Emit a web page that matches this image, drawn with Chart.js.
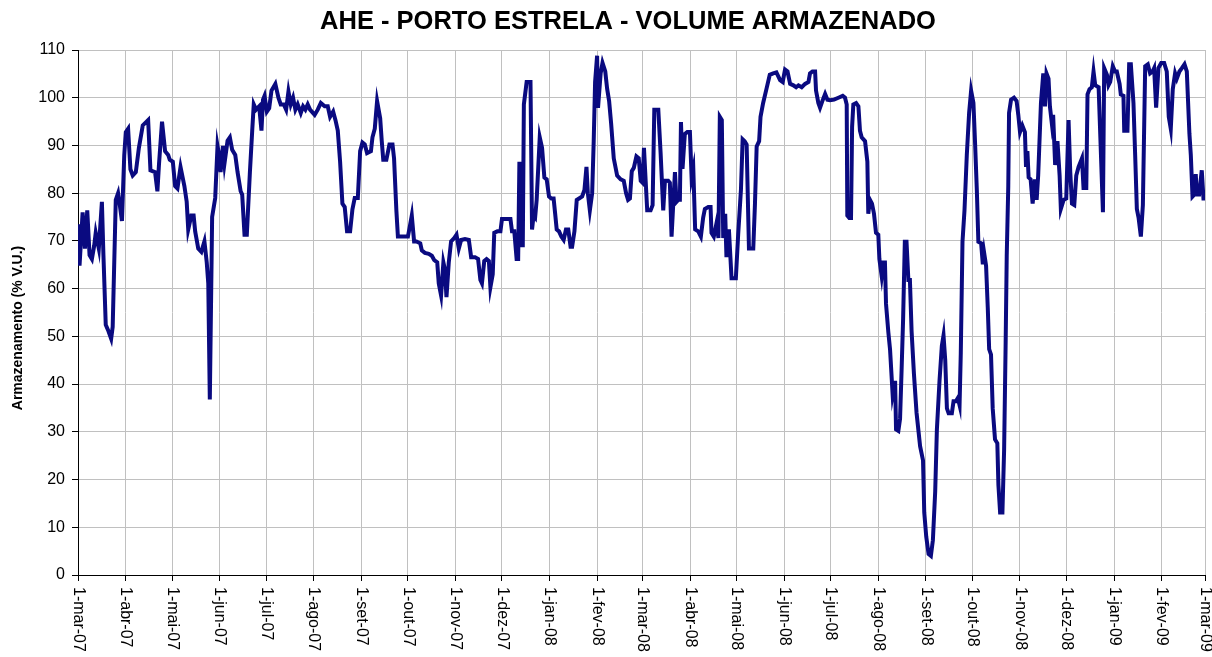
<!DOCTYPE html>
<html>
<head>
<meta charset="utf-8">
<script src="https://cdn.jsdelivr.net/npm/chart.js@4/dist/chart.umd.min.js"></script>
<style>
	html, body { margin: 0; padding: 0; background: #fff; }
	#wrap { width: 1212px; height: 657px; }
</style>
</head>
<body>
<div id="wrap"><canvas id="myChart" width="1212" height="657"></canvas></div>
<script>
// dias contados a partir de 1-mar-07
const dias = [
	0, 1, 3, 4.5, 6, 7.5, 9, 10.5, 11.5, 13.5, 15.5, 16.5, 18, 19.5, 21.5, 22.5, 24.5, 26, 27, 28.5,
	30, 31, 32.5, 34, 35.5, 37.5, 39.5, 42, 45.5, 47, 50, 51.5, 52.5, 54.5, 56.5, 58.5, 59.5, 61.5, 63, 64.5,
	66.5, 69, 70.5, 71.5, 73.5, 75, 76, 78, 80, 82, 83.5, 84.5, 85.5, 87, 89, 90.5, 91.5, 92.5, 94, 95,
	97, 98.5, 100, 102, 103.5, 105.5, 106.5, 108, 109.5, 111.5, 113, 114, 115.5, 117.5, 119, 120, 121, 122.5, 124, 125.5,
	128, 130, 131.5, 133.5, 135, 136.5, 138, 139.5, 141, 142.5, 144.5, 146, 147.5, 149, 150.5, 153.5, 155.5, 157.5, 160, 162,
	163.5, 165.5, 167, 168.5, 170, 171.5, 173, 174.5, 176.5, 178, 179.5, 181.5, 183, 184.5, 186, 187.5, 190, 191, 192.5, 194,
	196, 197, 198, 200, 202, 204, 205, 206.5, 207.5, 214, 215.5, 216.5, 218, 219.5, 222, 223, 225, 227.5, 229.5, 231,
	233, 234, 235.5, 237, 238, 239, 240.5, 242, 244, 245.5, 247, 248.5, 251, 253.5, 255, 257.5, 259.5, 261, 262, 263.5,
	265, 266.5, 267.5, 269, 270, 272, 274, 275, 277, 280.5, 281.5, 283, 284.5, 285.5, 286.3, 287.2, 288.5, 289.2, 291, 293.5,
	294.5, 295.5, 296.5, 297.5, 299.5, 301, 302.5, 304, 305.5, 307, 308.5, 309.5, 310.5, 312, 313.5, 315, 316.5, 318, 319.5, 320.5,
	322, 323.5, 325, 327, 328.5, 329.8, 330.7, 332, 333.5, 334.5, 335.4, 336.7, 337.3, 339, 340.2, 342, 343.2, 344.5, 345.8, 347.5,
	349.7, 352, 354, 355.5, 356.8, 358, 359.2, 360.5, 362.2, 363.7, 365, 366.2, 367.1, 368.2, 369.2, 371.4, 372.7, 373.8, 376.4, 377.9,
	379.6, 380.7, 382.8, 383.9, 385, 386.1, 387.2, 388.2, 389.3, 390.4, 391.1, 392.1, 393.6, 395.2, 396.9, 398, 399.1, 400.3, 402.3, 404,
	405.5, 406.6, 408.8, 410.3, 410.9, 412.4, 414.2, 415.4, 416.3, 417.6, 418.5, 419.8, 420.6, 422.2, 423.9, 426.7, 428.2, 430, 431.1, 432.4,
	433.7, 435.2, 438, 439.1, 440.2, 441.8, 442.7, 444.4, 446.6, 448.7, 450.9, 453, 455.4, 457.1, 458.6, 460.2, 461.9, 464, 465.8, 467.3,
	469.4, 471.6, 473.8, 474.8, 476.4, 478.1, 478.7, 480.2, 481.3, 482.8, 484.6, 486.1, 487.8, 490.4, 493.2, 496, 497.5, 498.6, 499, 500.3,
	501.4, 502.1, 502.9, 504.7, 506.2, 507.2, 508.3, 510.5, 512, 512.6, 513.7, 515, 516.3, 517.6, 519.1, 519.8, 521.3, 522.4, 523.4, 524.1,
	525.6, 526.7, 528.4, 530, 530.6, 532.1, 533.2, 534.2, 535.2, 536.3, 537.4, 538.6, 539.6, 540.7, 542.2, 543.9, 546.2, 548.1, 548.9, 550.2,
	551.7, 553.2, 554.5, 556, 557.1, 558.8, 560.3, 561.4, 562.5, 563.6, 564.7, 566.8, 567.9, 569.4, 570.7, 571.8, 572.6, 573.7, 575, 576.5,
	578, 579.3, 580.8, 581.9, 583, 584, 585.8, 586.9, 587.7, 589, 590.1, 591, 592.2, 593.3, 594.8, 596.3, 597, 598.1, 599.6, 600.7,
	601.7, 602.4, 603.4, 603.9, 605.2, 607.1, 608.8, 609.9, 611, 612.5, 614.2, 614.9, 615.8, 616.6, 617.9, 619.2, 620.7, 621.8, 622.8, 624.6,
	626.1, 627.2, 628.2, 629.5, 630.4, 631.7, 632.5, 633.8, 635.3, 636.7, 637.5, 639.3, 641, 642.5, 643.6, 644.7, 646.2, 647.5, 649, 651.2,
	652.2, 654, 654.8, 656.1, 657.6, 658.7, 659.8, 662, 664.8, 665.6, 667.4, 668.4, 669.5, 671.2, 672.7, 673.8, 675.6, 676.4, 678.1, 678.6,
	680.7, 681.8, 682.9, 684.6, 685.7, 686.8, 687.9, 689.4, 690.7, 692.2, 693.9, 695.4, 697, 698, 699.3, 700.8, 702.6, 704.5, 706.2, 707.5,
	708.8, 710.1, 711.6, 712.7, 714.4, 716, 717.7, 719.2, 720.9, 721.8, 722.9, 724, 725, 725.7, 727.2, 728.9, 730, 731
];

// armazenamento (% V.U.)
const volume = [
	73.5, 64.8, 76, 68.4, 76.4, 67, 66.2, 69, 71.7, 68.4, 78.2, 67, 52.4, 51.3, 49.5, 52, 78.6, 80, 77.8, 74.2,
	88, 92.8, 93.5, 85, 83.7, 84.4, 89.5, 94.2, 95.3, 84.8, 84.4, 80.4, 85.9, 95, 88.8, 88, 87, 86.6, 81.5, 81,
	85.5, 81.5, 78.2, 72.4, 75.3, 75.3, 72, 68.4, 67.7, 69.9, 65.5, 61.1, 36.8, 75, 79, 89.9, 88, 84.4, 89.9, 86.2,
	91, 91.7, 89.1, 88, 84.4, 80.4, 79.7, 71.3, 71.3, 84.4, 93.1, 98.6, 97.5, 98.2, 93.1, 99.6, 100.4, 97.1, 97.8, 101.5,
	102.9, 100, 98.6, 98.6, 97.5, 101.3, 98.6, 100, 97.5, 98.6, 96.8, 98.2, 97.5, 98.6, 97.5, 96.4, 97.5, 98.9, 98.2, 98.2,
	96, 97.1, 95.3, 93.1, 86.6, 77.8, 77.1, 72, 72, 76.6, 79, 79, 88.8, 90.6, 90.2, 88.4, 88.8, 91.7, 93.5, 99.3,
	95.7, 91, 87, 87, 90.2, 90.2, 87.3, 76.4, 70.9, 70.9, 73.5, 75.3, 69.9, 69.9, 69.5, 68, 67.5, 67.3, 66.9, 66,
	65.5, 61.1, 58.6, 65.5, 64, 58.2, 65.5, 69.9, 70.6, 71.3, 68.4, 70.2, 70.4, 70.2, 66.6, 66.6, 66.2, 61.8, 61.1, 65.8,
	66.2, 65.8, 60.3, 63, 71.7, 72, 72, 74.6, 74.6, 74.6, 72, 72, 66.2, 66.2, 86.6, 69.1, 69.1, 98.6, 103.3, 103.3,
	72.4, 75.3, 74.9, 78.6, 91.7, 89.5, 83.3, 82.9, 79.3, 78.9, 78.9, 75.7, 72.4, 72, 70.9, 70.2, 72.4, 72.4, 68.8, 68.8,
	72, 78.6, 78.9, 79.3, 80.7, 85.5, 80, 76.4, 80, 90.9, 103.3, 108.8, 97.9, 105.1, 107.3, 105.5, 101.9, 99.3, 94.6, 87.3,
	83.7, 82.9, 82.6, 80, 78.6, 78.9, 84.6, 85.3, 87.7, 87.3, 82.6, 82.2, 89.5, 82.6, 76.4, 76.4, 77.5, 97.5, 97.5, 88.4,
	76.4, 82.6, 82.6, 82.2, 70.9, 77.8, 84.4, 78.2, 78.6, 78.6, 94.9, 85.1, 92.4, 92.8, 92.8, 83.3, 85.1, 72.4, 72, 70.9,
	74.9, 76.7, 77.1, 77.1, 71.7, 70.9, 73.8, 70.6, 96, 95.3, 70.6, 75.7, 66.6, 72.4, 62.2, 62.2, 71.3, 80.7, 91.3, 90.9,
	90.2, 68.4, 68.4, 77.8, 89.8, 90.9, 96, 98.9, 101.9, 104.8, 105.1, 105.3, 103.7, 103.3, 105.9, 105.5, 102.9, 102.6, 102.2, 102.6,
	102.2, 102.9, 103.3, 105.1, 105.5, 105.5, 101.5, 98.9, 97.9, 99.3, 100.8, 99.6, 99.5, 99.6, 100, 100.4, 100, 98.6, 75.3, 74.8,
	74.8, 93.9, 98.6, 98.9, 98.2, 93.1, 91.7, 90.9, 86.6, 75.7, 78.6, 77.8, 75.7, 71.7, 71.3, 66.2, 62.6, 65.5, 65.5, 56.8,
	50.9, 47.3, 37.8, 40.7, 30.5, 30.2, 32.7, 42.9, 53.8, 69.8, 69.8, 61.8, 61.8, 51, 42.2, 34, 27, 24, 13.1, 8,
	4.4, 4, 7.3, 17.5, 30.5, 40.7, 48, 50.2, 45.1, 34.9, 33.9, 33.9, 36.4, 36.4, 37.1, 35.6, 46.5, 69.8, 76.4, 88,
	96.8, 101.5, 98.9, 90.2, 80.7, 69.8, 69.5, 65.1, 67.6, 64.8, 56, 47.3, 46.2, 34.9, 28.4, 27.6, 18.9, 13.1, 13.1, 26.2,
	48.7, 66.9, 81.5, 96.8, 99.6, 100, 99.3, 96.4, 92.8, 94.2, 92.8, 85.5, 88.8, 83.3, 82.9, 77.8, 82.9, 78.6, 83.7, 98.9,
	105.1, 98.2, 105.1, 104, 98.2, 94.5, 96.4, 85.9, 90.9, 83.7, 76.7, 78.6, 78.9, 95.3, 84.4, 77.8, 77.5, 83.7, 85.5, 87.3,
	81.1, 81.1, 100.7, 101.8, 102.2, 105.5, 102.6, 102.2, 76, 106.2, 104.8, 102.6, 103.3, 106.6, 105.5, 105.5, 102.9, 100.7, 100.4, 93.1,
	93.1, 107, 107, 98.9, 88, 76.7, 74.9, 70.9, 77.5, 106.6, 107, 105.1, 105.5, 106.2, 97.9, 106.2, 107.3, 107.3, 105.5, 96,
	93.5, 101.8, 105.1, 104, 105.5, 106.2, 107, 105.5, 92.4, 88, 79.3, 79.7, 84, 79.7, 79.7, 84.8, 78.9, 78.9
];

// inicio de cada mes (dias desde 1-mar-07) e rotulos
const mesesDias = [0, 31, 61, 92, 122, 153, 184, 214, 245, 275, 306, 337, 366, 397, 427, 458, 488, 519, 550, 580, 611, 641, 672, 703, 731];
const mesesLabels = [
	'1-mar-07', '1-abr-07', '1-mai-07', '1-jun-07', '1-jul-07', '1-ago-07', '1-set-07', '1-out-07', '1-nov-07', '1-dez-07',
	'1-jan-08', '1-fev-08', '1-mar-08', '1-abr-08', '1-mai-08', '1-jun-08', '1-jul-08', '1-ago-08', '1-set-08', '1-out-08',
	'1-nov-08', '1-dez-08', '1-jan-09', '1-fev-09', '1-mar-09'
];

const titulo = 'AHE - PORTO ESTRELA - VOLUME ARMAZENADO';
const tituloY = 'Armazenamento (% V.U.)';
const fonte = 'Arial, "Liberation Sans", sans-serif';

const textos = {
	id: 'textos',
	afterDraw(chart) {
		const c = chart.ctx;
		const xs = chart.scales.x;
		const area = chart.chartArea;
		c.save();
		c.fillStyle = '#000';

		c.font = 'bold 25.5px ' + fonte;
		c.textAlign = 'center';
		c.textBaseline = 'middle';
		c.fillText(titulo, 628, 22);

		c.save();
		c.translate(18, 328);
		c.rotate(-Math.PI / 2);
		c.font = 'bold 14px ' + fonte;
		c.fillText(tituloY, 0, 0);
		c.restore();

		c.font = '16px ' + fonte;
		c.textAlign = 'left';
		mesesDias.forEach((d, i) => {
			const x = xs.getPixelForValue(d);
			c.save();
			c.translate(x, area.bottom + 12);
			c.rotate(Math.PI / 2);
			c.fillText(mesesLabels[i], 0, 0);
			c.restore();
		});
		c.restore();
	},
};

const ctx = document.getElementById('myChart').getContext('2d');

new Chart(ctx, {
	type: 'line',
	data: {
		datasets: [
			{
				label: 'Volume',
				data: dias.map((d, i) => ({ x: d, y: volume[i] })),
				borderColor: '#0a0a80',
				borderWidth: 4,
				pointRadius: 0,
				tension: 0,
				fill: false,
			},
		],
	},
	options: {
		responsive: false,
		animation: false,
		layout: { padding: { top: 50, right: 7, left: 0, bottom: 0 } },
		plugins: {
			legend: { display: false },
			tooltip: { enabled: false },
		},
		scales: {
			x: {
				type: 'linear',
				min: 0,
				max: 731,
				afterBuildTicks: (scale) => {
					scale.ticks = mesesDias.map((v) => ({ value: v }));
				},
				afterFit: (scale) => {
					scale.height = 82;
				},
				ticks: { display: false },
				grid: { color: '#c0c0c0', tickColor: '#000', tickLength: 6 },
				border: { color: '#000', width: 1 },
			},
			y: {
				min: 0,
				max: 110,
				afterFit: (scale) => {
					scale.width = 78;
				},
				ticks: {
					stepSize: 10,
					color: '#000',
					padding: 7,
					font: { family: fonte, size: 16 },
				},
				grid: { color: '#c0c0c0', tickColor: '#000', tickLength: 6 },
				border: { color: '#000', width: 1 },
			},
		},
	},
	plugins: [textos],
});
</script>
</body>
</html>
